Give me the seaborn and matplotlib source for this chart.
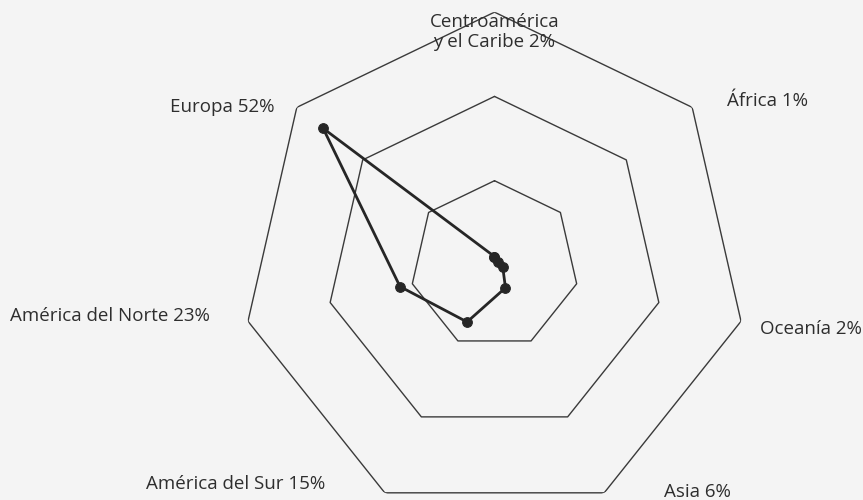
import numpy as np
import pandas as pd
import matplotlib.pyplot as plt
import seaborn as sns

# datos del gráfico (porcentaje de destinos por región)
regiones = ["Centroamérica\ny el Caribe", "África", "Oceanía", "Asia",
            "América del Sur", "América del Norte", "Europa"]
porcentajes = [2, 1, 2, 6, 15, 23, 52]
anillos = [20, 40, 60]

# posición de cada etiqueta (ángulo en grados desde arriba, radio)
pos_etiquetas = [(0, 55.2), (59.0, 75.6), (101.4, 76.6), (138.2, 72.4),
                 (229.7, 80.4), (262.4, 92.0), (300.1, 74.6)]

sns.set_theme(style="white")
plt.rcParams['font.family'] = ['Open Sans', 'DejaVu Sans']

n = len(regiones)
angulos = np.arange(n) * 2 * np.pi / n

df = pd.DataFrame({'region': regiones, 'valor': porcentajes, 'theta': angulos})
df_cerrado = pd.concat([df, df.iloc[[0]]], ignore_index=True)

fig = plt.figure(figsize=(8.63, 5.0), dpi=100)
fig.patch.set_facecolor('#f4f4f4')
ax = fig.add_axes([0.28, -0.036, 0.586, 1.012], projection='polar')
ax.set_theta_zero_location('N')
ax.set_theta_direction(-1)
ax.set_ylim(0, 60)
ax.axis('off')

# anillos heptagonales
t_cerrado = np.append(angulos, angulos[0])
for nivel in anillos:
    ax.plot(t_cerrado, [nivel] * len(t_cerrado), color='#3a3a3a', lw=1.0, zorder=1)

sns.lineplot(data=df_cerrado, x='theta', y='valor', ax=ax, sort=False,
             estimator=None, color='#262626', lw=2.0, marker='o',
             markersize=7, markeredgecolor='#262626', zorder=3)
ax.set_xlabel('')
ax.set_ylabel('')

for reg, val, (ang, r) in zip(regiones, porcentajes, pos_etiquetas):
    ax.text(np.deg2rad(ang), r, f"{reg} {val}%", ha='center', va='center',
            fontsize=13.5, color='#2e2e2e', linespacing=1.15)

fig.savefig("out.png", dpi=100, facecolor=fig.get_facecolor())
